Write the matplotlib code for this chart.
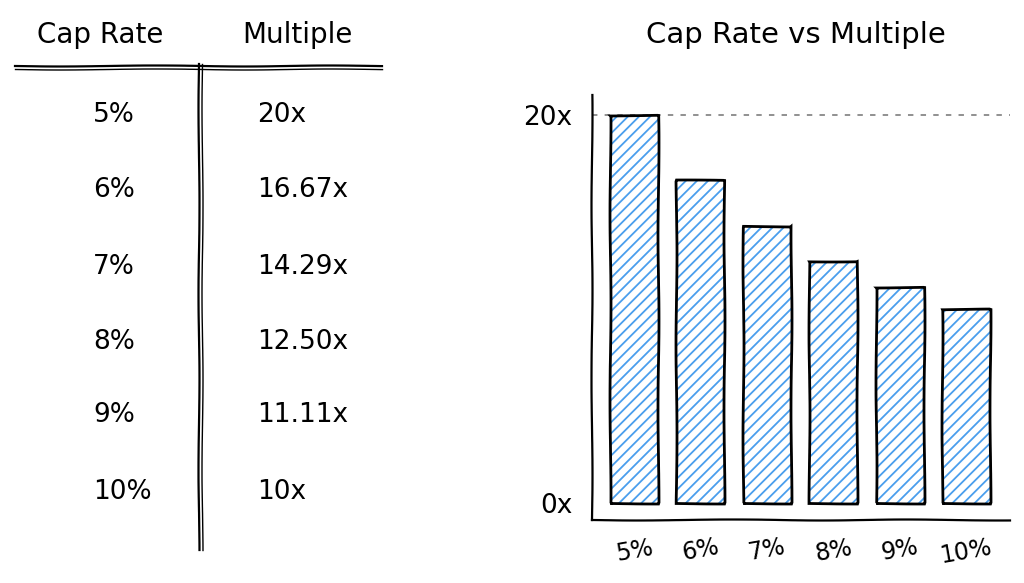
import matplotlib.pyplot as plt
from matplotlib.lines import Line2D

cap_rates = ["5%", "6%", "7%", "8%", "9%", "10%"]
multiples = [20.0, 16.67, 14.29, 12.50, 11.11, 10.0]
multiple_labels = ["20x", "16.67x", "14.29x", "12.50x", "11.11x", "10x"]
y_ticks = [0, 20]
y_tick_labels = ["0x", "20x"]

W, H = 1024, 583
plt.rcParams['font.family'] = ['DejaVu Sans']
plt.rcParams['hatch.linewidth'] = 1.3

fig = plt.figure(figsize=(W / 100, H / 100), dpi=100)
fig.patch.set_facecolor('white')

SKETCH = (0.5, 200, 2)


def px(x, y):
    # pixel position (from top-left) -> figure fraction
    return x / W, 1 - y / H


def sketch_line(x0, y0, x1, y1, lw=1.6, color='black'):
    (a, b), (c, d) = px(x0, y0), px(x1, y1)
    ln = Line2D([a, c], [b, d], transform=fig.transFigure, color=color, lw=lw)
    ln.set_sketch_params(*SKETCH)
    fig.add_artist(ln)


# table on the left
fig.text(*px(100, 35), "Cap Rate", fontsize=20, ha='center', va='center')
fig.text(*px(297, 35), "Multiple", fontsize=20, ha='center', va='center')
sketch_line(15, 66, 382, 66)
sketch_line(15, 68.5, 382, 68.5, lw=1.0)
sketch_line(199, 64, 199, 550)
sketch_line(201.5, 64, 201.5, 550, lw=1.0)

row_y = [115, 190, 267, 342, 415, 492]
for ry, rate, mult in zip(row_y, cap_rates, multiple_labels):
    fig.text(*px(93, ry), rate, fontsize=19, ha='left', va='center')
    fig.text(*px(257, ry), mult, fontsize=19, ha='left', va='center')

# bar chart on the right
fig.text(*px(796, 35), "Cap Rate vs Multiple", fontsize=21, ha='center', va='center')

ax_l, ax_r, ax_t, ax_b = 592, 1010, 95, 520
ax = fig.add_axes([ax_l / W, 1 - ax_b / H, (ax_r - ax_l) / W, (ax_b - ax_t) / H])
ax.set_facecolor('none')

px_per_unit = (503 - 115) / 20
ax.set_ylim(-(ax_b - 503) / px_per_unit, 20 + (115 - ax_t) / px_per_unit)
step = (966 - 634) / 5
ax.set_xlim(-(634 - ax_l) / step, 5 + (ax_r - 966) / step)

xs = range(len(cap_rates))
ax.bar(xs, multiples, width=0.72, color='none', edgecolor='#4a9eed',
       linewidth=0, hatch='///')
outline = ax.bar(xs, multiples, width=0.72, fill=False, edgecolor='black', linewidth=2.0)
for p in outline:
    p.set_sketch_params(*SKETCH)

ax.axhline(20, color='#888888', lw=1.3, ls=(0, (3, 4)), zorder=0)

for side in ['top', 'right']:
    ax.spines[side].set_visible(False)
for side in ['left', 'bottom']:
    ax.spines[side].set_linewidth(1.6)
    ax.spines[side].set_sketch_params(*SKETCH)

ax.set_yticks(y_ticks)
ax.set_yticklabels(y_tick_labels, fontsize=19)
ax.set_xticks(list(xs))
ax.set_xticklabels(cap_rates, fontsize=17, rotation=10)
ax.tick_params(length=0)
ax.tick_params(axis='y', pad=14)
ax.tick_params(axis='x', pad=11)

fig.savefig('out.png', dpi=100, facecolor='white')
